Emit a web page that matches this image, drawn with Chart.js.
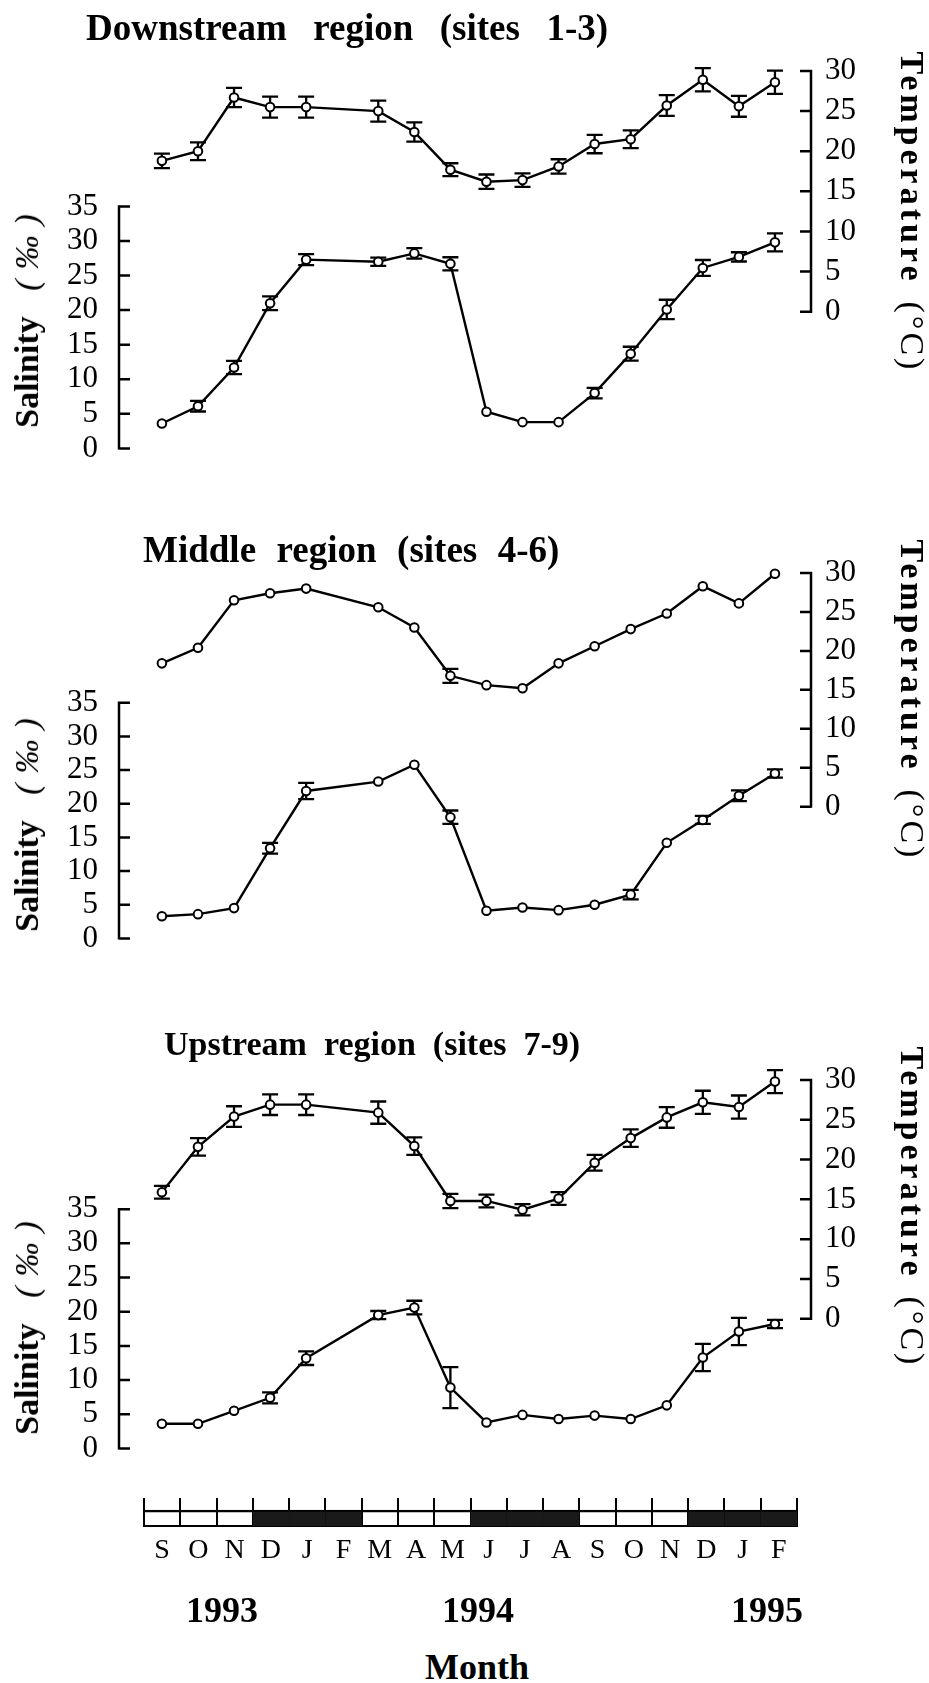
<!DOCTYPE html>
<html>
<head>
<meta charset="utf-8">
<script src="https://cdn.jsdelivr.net/npm/chart.js@4.4.0/dist/chart.umd.min.js"></script>
<style>
html,body{margin:0;padding:0;background:#fff;}
#wrap{position:relative;width:929px;height:1683px;overflow:hidden;font-family:"Liberation Serif","Times New Roman",serif;color:#000;}
canvas{position:absolute;left:0;}
.t{position:absolute;white-space:pre;font-weight:bold;line-height:1;transform:translateY(-50%);}
.c{position:absolute;white-space:pre;font-weight:bold;line-height:1;transform:translate(-50%,-50%);}
.rl{position:absolute;white-space:pre;line-height:1;font-size:34px;transform:translate(-50%,-50%) rotate(-90deg);}
.rr{position:absolute;white-space:pre;line-height:1;font-size:34px;transform:translate(-50%,-50%) rotate(90deg);}
.pm{font-style:italic;letter-spacing:10px;font-size:34px;}
</style>
</head>
<body>
<div id="wrap">
  <canvas id="c1" width="929" height="480" style="top:0px"></canvas>
  <canvas id="c2" width="929" height="480" style="top:490px"></canvas>
  <canvas id="c3" width="929" height="490" style="top:990px"></canvas>
  <canvas id="c4" width="929" height="120" style="top:1480px"></canvas>

  <div class="t" style="left:86px;top:27px;font-size:37px;word-spacing:4px">Downstream  region  (sites  1-3)</div>
  <div class="t" style="left:143px;top:549px;font-size:37px;word-spacing:1px">Middle  region  (sites  4-6)</div>
  <div class="t" style="left:164px;top:1044px;font-size:34px">Upstream  region  (sites  7-9)</div>

  <div class="rl" style="left:27px;top:316px"><b>Salinity</b>   <span class="pm">(‰)</span></div>
  <div class="rl" style="left:27px;top:820px"><b>Salinity</b>   <span class="pm">(‰)</span></div>
  <div class="rl" style="left:27px;top:1323px"><b>Salinity</b>   <span class="pm">(‰)</span></div>

  <div class="rr" style="left:912px;top:212px"><b style="letter-spacing:4px">Temperature</b>  <span style="letter-spacing:3px">(°C)</span></div>
  <div class="rr" style="left:912px;top:700px"><b style="letter-spacing:4px">Temperature</b>  <span style="letter-spacing:3px">(°C)</span></div>
  <div class="rr" style="left:912px;top:1207px"><b style="letter-spacing:4px">Temperature</b>  <span style="letter-spacing:3px">(°C)</span></div>

  <div class="c" id="y0" style="left:222px;top:1610px;font-size:36px"></div>
  <div class="c" id="y1" style="left:478px;top:1610px;font-size:36px"></div>
  <div class="c" id="y2" style="left:767px;top:1610px;font-size:36px"></div>
  <div class="c" style="left:477px;top:1667px;font-size:36px">Month</div>
</div>
<script>
// ---------- DATA ----------
const months = ['S','O','N','D','J','F','M','A','M','J','J','A','S','O','N','D','J','F'];
const yearLabels = ['1993','1994','1995'];
const seasonDark = [0,0,0,1,1,1,0,0,0,1,1,1,0,0,0,1,1,1];
const barLevel   = [1,1,1,1,1,1,1,1,1,1,1,1,1,1,1,1,1,1];

// Downstream region (sites 1-3)
const downTemp    = [18.8,20.0,26.7,25.5,25.5,null,25.0,22.4,17.7,16.2,16.4,18.1,20.9,21.5,25.7,28.9,25.6,28.6];
const downTempErr = [0.9,1.1,1.2,1.3,1.3,null,1.3,1.2,0.8,0.9,0.85,0.9,1.15,1.1,1.3,1.45,1.3,1.45];
const downSal     = [3.6,6.1,11.7,21.0,27.3,null,27.0,28.2,26.7,5.3,3.8,3.8,8.0,13.7,20.1,26.1,27.7,29.8];
const downSalErr  = [0,0.76,0.95,1.0,0.8,null,0.6,0.76,0.95,0,0,0,0.76,1.0,1.4,1.15,0.67,1.3];

// Middle region (sites 4-6)
const midTemp    = [18.4,20.4,26.5,27.4,28.0,null,25.6,23.0,16.8,15.6,15.2,18.4,20.6,22.8,24.8,28.3,26.1,29.9];
const midTempErr = [0,0,0,0,0,null,0,0,0.9,0,0,0,0,0,0,0,0,0];
const midSal     = [3.3,3.6,4.5,13.4,21.9,null,23.3,25.8,18.0,4.1,4.6,4.2,5.0,6.5,14.2,17.6,21.2,24.5];
const midSalErr  = [0,0,0,0.8,1.2,null,0,0,1.0,0,0,0,0,0.7,0,0.6,0.8,0.6];

// Upstream region (sites 7-9)
const upTemp    = [15.9,21.6,25.4,26.9,26.9,null,25.9,21.7,14.8,14.8,13.7,15.1,19.6,22.7,25.3,27.2,26.6,29.8];
const upTempErr = [0.8,1.1,1.3,1.3,1.3,null,1.4,1.1,0.9,0.8,0.7,0.8,1.0,1.1,1.3,1.45,1.45,1.45];
const upSal     = [3.6,3.6,5.5,7.4,13.2,null,19.5,20.6,8.9,3.8,4.9,4.3,4.8,4.3,6.3,13.3,17.1,18.2];
const upSalErr  = [0,0,0,0.8,1.0,null,0.6,1.0,3.0,0,0,0,0,0,0,2.0,2.0,0.6];

const salTicksMax = 35;
const tempTicksMax = 30;

// ---------- LAYOUT ----------
const X_LEFT = 119, X_RIGHT = 811, X_MIN = -1.19, X_MAX = 18.0;
const panels = [
  {canvas:'c1', top:0,   h:480, t30:71,   t0:314,  s35:207.7,  s0:452,  temp:downTemp, tErr:downTempErr, sal:downSal, sErr:downSalErr},
  {canvas:'c2', top:490, h:480, t30:573,  t0:816,  s35:708,    s0:953,  temp:midTemp,  tErr:midTempErr,  sal:midSal,  sErr:midSalErr},
  {canvas:'c3', top:990, h:490, t30:1080, t0:1323, s35:1211.5, s0:1455, temp:upTemp,   tErr:upTempErr,   sal:upSal,   sErr:upSalErr}
];

yearLabels.forEach((y,i)=>{ document.getElementById('y'+i).textContent = y; });

Chart.defaults.font.family = "'Liberation Serif','Times New Roman',serif";
Chart.defaults.color = '#000';

const toPoints = (vals, errs) => vals.map((v,i)=>({x:i, y:v, e:errs[i]})).filter(p => p.y !== null);

const errorBars = {
  id:'errorBars',
  beforeDatasetsDraw(chart){
    const ctx = chart.ctx;
    chart.data.datasets.forEach((ds, di)=>{
      const meta = chart.getDatasetMeta(di);
      const ys = chart.scales[ds.yAxisID];
      ctx.save();
      ctx.strokeStyle = '#000';
      ctx.lineWidth = 2.3;
      meta.data.forEach((pt, i)=>{
        const d = ds.data[i];
        if (!d || !d.e) return;
        const x = pt.x;
        const yt = ys.getPixelForValue(d.y + d.e);
        const yb = ys.getPixelForValue(d.y - d.e);
        ctx.beginPath();
        ctx.moveTo(x, yt); ctx.lineTo(x, yb);
        ctx.moveTo(x-8, yt); ctx.lineTo(x+8, yt);
        ctx.moveTo(x-8, yb); ctx.lineTo(x+8, yb);
        ctx.stroke();
      });
      ctx.restore();
    });
  }
};

const inwardAxes = {
  id:'inwardAxes',
  afterDraw(chart, args, opts){
    const ctx = chart.ctx, ca = chart.chartArea;
    (opts.axes || []).forEach(a=>{
      const s = chart.scales[a.id];
      const x = a.side === 'left' ? ca.left : ca.right;
      const dir = a.side === 'left' ? 1 : -1;
      ctx.save();
      ctx.strokeStyle = '#000';
      ctx.lineWidth = 2.5;
      ctx.beginPath();
      ctx.moveTo(x, s.getPixelForValue(a.lo) + 1.2);
      ctx.lineTo(x, s.getPixelForValue(a.hi) - 1.2);
      s.ticks.forEach(t=>{
        const y = s.getPixelForValue(t.value);
        ctx.moveTo(x, y); ctx.lineTo(x + dir*11, y);
      });
      ctx.stroke();
      ctx.restore();
    });
  }
};

const lineStyle = {
  borderColor:'#000', borderWidth:2.4, pointRadius:4.3, pointBorderWidth:2,
  pointBackgroundColor:'#fff', pointBorderColor:'#000', tension:0, clip:false, fill:false
};

panels.forEach(p=>{
  const salMax = salTicksMax * (p.s0 - p.t30) / (p.s0 - p.s35);
  const tempMin = tempTicksMax - tempTicksMax * (p.s0 - p.t30) / (p.t0 - p.t30);
  new Chart(document.getElementById(p.canvas), {
    type:'line',
    data:{ datasets:[
      Object.assign({label:'Temperature', data:toPoints(p.temp, p.tErr), yAxisID:'yTemp'}, lineStyle),
      Object.assign({label:'Salinity', data:toPoints(p.sal, p.sErr), yAxisID:'ySal'}, lineStyle)
    ]},
    options:{
      responsive:false, animation:false, devicePixelRatio:1,
      layout:{padding:{left:0, right:0, top:p.t30 - p.top, bottom:(p.top + p.h) - p.s0}},
      plugins:{legend:{display:false}, tooltip:{enabled:false},
        inwardAxes:{axes:[{id:'ySal', side:'left', lo:0, hi:salTicksMax},{id:'yTemp', side:'right', lo:0, hi:tempTicksMax}]}},
      scales:{
        x:{type:'linear', min:X_MIN, max:X_MAX, display:false},
        ySal:{type:'linear', position:'left', min:0, max:salMax,
          grid:{display:false}, border:{display:false},
          ticks:{stepSize:5, font:{size:31}, color:'#000', padding:13},
          afterBuildTicks(s){ s.ticks = [0,5,10,15,20,25,30,35].filter(v=>v<=salTicksMax).map(v=>({value:v})); },
          afterFit(s){ s.width = X_LEFT; }
        },
        yTemp:{type:'linear', position:'right', min:tempMin, max:tempTicksMax,
          grid:{display:false}, border:{display:false},
          ticks:{stepSize:5, font:{size:31}, color:'#000', padding:6},
          afterBuildTicks(s){ s.ticks = [0,5,10,15,20,25,30].filter(v=>v<=tempTicksMax).map(v=>({value:v})); },
          afterFit(s){ s.width = 929 - X_RIGHT; }
        }
      }
    },
    plugins:[errorBars, inwardAxes]
  });
});

// month / season bar
new Chart(document.getElementById('c4'), {
  type:'bar',
  data:{ labels:months, datasets:[{
    data:barLevel,
    backgroundColor: seasonDark.map(d => d ? '#1a1a1a' : 'rgba(0,0,0,0)'),
    borderColor:'#000', borderWidth:{top:2,left:0,right:0,bottom:0},
    categoryPercentage:1, barPercentage:1
  }]},
  options:{
    responsive:false, animation:false, devicePixelRatio:1,
    layout:{padding:{left:144, right:132, top:18, bottom:14}},
    plugins:{legend:{display:false}, tooltip:{enabled:false}},
    scales:{
      x:{z:1, grid:{offset:true, color:'#000', lineWidth:2, drawTicks:false, drawOnChartArea:true},
         border:{display:true, color:'#000', width:2},
         ticks:{font:{size:28}, color:'#000', padding:8, maxRotation:0, autoSkip:false},
         afterFit(s){ s.height = 60; }},
      y:{display:false, min:0, max:1.75}
    }
  }
});
</script>
</body>
</html>
